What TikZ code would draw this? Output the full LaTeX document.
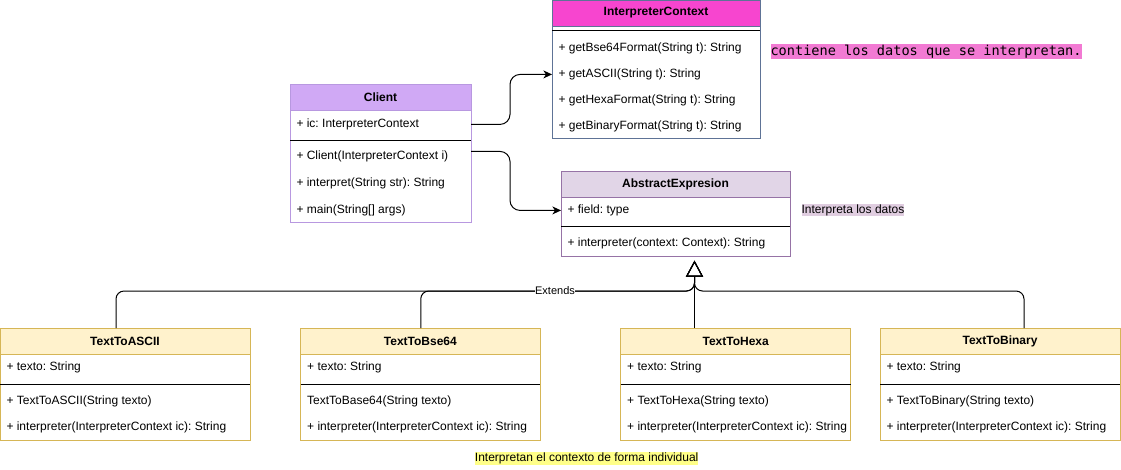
\documentclass[tikz,border=0pt]{standalone}
\usepackage{fontspec}
\setmainfont{Liberation Sans}
\newfontfamily\notemono{DejaVu Sans Mono}
\usetikzlibrary{arrows.meta,calc}
\frenchspacing

\definecolor{ctxhead}{HTML}{F745CF}
\definecolor{ctxborder}{HTML}{5E7396}
\definecolor{clienthead}{HTML}{D0A9F5}
\definecolor{clientborder}{HTML}{B898E0}
\definecolor{abshead}{HTML}{E1D5E7}
\definecolor{absborder}{HTML}{9673A6}
\definecolor{subhead}{HTML}{FFF2CC}
\definecolor{subborder}{HTML}{D6B656}
\definecolor{pinknote}{HTML}{F27AD3}
\definecolor{mauvenote}{HTML}{E0CDE0}
\definecolor{yellownote}{HTML}{FFFF88}

\begin{document}
\begin{tikzpicture}[x=0.75pt, y=-0.75pt, line width=0.75pt,
	font=\fontsize{9}{11}\selectfont,
	classbox/.style={draw, fill=white, anchor=north west, inner sep=0pt, outer sep=0pt},
	classhead/.style={draw, anchor=north, inner sep=0pt, outer sep=0pt, minimum height=26*0.75pt,
		font=\fontsize{9}{11}\selectfont\bfseries},
	member/.style={anchor=mid west, inner sep=0pt},
	assoc/.style={-{Stealth[length=6.5pt, width=6pt, inset=2pt]}, rounded corners=7.5pt},
	extends/.style={-{Triangle[open, length=12pt, width=12.75pt]}, rounded corners=6pt},
	note/.style={inner xsep=0pt, inner ysep=0.6pt}]
	\useasboundingbox (0,0) rectangle (1121,469);

	% InterpreterContext
	\node[classbox, draw=ctxborder, minimum width=208*0.75pt, minimum height=138*0.75pt] (ctx) at (552,0) {};
	\node[classhead, fill=ctxhead, draw=ctxborder, minimum width=208*0.75pt] (ctx-head) at (ctx.north) {InterpreterContext};
	\draw (552,30.7) -- (760,30.7);
	\foreach \y/\t [count=\i] in {48/+ getBse64Format(String t): String, 74/+ getASCII(String t): String,
		100/+ getHexaFormat(String t): String, 126/+ getBinaryFormat(String t): String}{
		\node[member] (ctx-r\i) at (558,\y) {\t};
	}

	% Client
	\node[classbox, draw=clientborder, minimum width=181*0.75pt, minimum height=138*0.75pt] (client) at (290,84) {};
	\node[classhead, fill=clienthead, draw=clientborder, minimum width=181*0.75pt] (client-head) at (client.north) {Client};
	\node[member] (client-ic) at (296,124) {+ ic: InterpreterContext};
	\draw (290,140) -- (471,140);
	\foreach \y/\t [count=\i] in {156/+ Client(InterpreterContext i), 183/+ interpret(String str): String,
		210/+ main(String[] args)}{
		\node[member] (client-m\i) at (296,\y) {\t};
	}

	% AbstractExpresion
	\node[classbox, draw=absborder, minimum width=229*0.75pt, minimum height=85*0.75pt] (abstract) at (561,171) {};
	\node[classhead, fill=abshead, draw=absborder, minimum width=229*0.75pt] (abstract-head) at (abstract.north) {AbstractExpresion};
	\node[member] (abs-field) at (567,210) {+ field: type};
	\draw (561,226.5) -- (790,226.5);
	\node[member] (abs-m1) at (567,243) {+ interpreter(context: Context): String};

	% subclasses
	\foreach \n/\x/\w/\t/\c in {ascii/0/250/TextToASCII/+ TextToASCII(String texto),
		bse64/300.7/239.3/TextToBse64/TextToBase64(String texto),
		hexa/620.7/230/TextToHexa/+ TextToHexa(String texto),
		binary/880/240/TextToBinary/+ TextToBinary(String texto)}{
		\node[classbox, draw=subborder, minimum width=\w*0.75pt, minimum height=112*0.75pt] (\n) at (\x,328) {};
		\node[classhead, fill=subhead, draw=subborder, minimum width=\w*0.75pt] (\n-head) at (\n.north) {\t};
		\node[member] (\n-texto) at (\x+6,367) {+ texto: String};
		\draw (\x,384) -- (\x+\w,384);
		\node[member] (\n-m1) at (\x+6,401) {\c};
		\node[member] (\n-m2) at (\x+6,427) {+ interpreter(InterpreterContext ic): String};
	}

	% connectors
	\coordinate (bend) at (510,0);
	\draw[assoc] (client.east |- client-ic) -| (bend |- ctx-r2) -- (ctx.west |- ctx-r2);
	\draw[assoc] ($(client.east |- client-m1)+(0,-5)$) -| (bend |- abs-field) -- (abstract.west |- abs-field);

	\coordinate (bar) at (0,291);
	\coordinate (tip) at ($(abstract.south)+(19,4.7)$);
	\foreach \n/\dx in {ascii/-9, bse64/0.4, binary/24}{
		\draw[extends] ($(\n.north)+(\dx,0)$) |- (bar -| tip) -- (tip);
	}
	\draw[extends] (hexa.north -| tip) -- (tip);
	\node[fill=white, inner sep=0.4pt, font=\fontsize{8.25}{10}\selectfont] (ext-label) at (555,291) {Extends};

	% notes
	\node[note, fill=pinknote, anchor=west, font=\notemono\fontsize{10.2}{12}\selectfont] (note-ctx) at (770,51.5) {contiene los datos que se interpretan.};
	\node[note, fill=mauvenote] (note-abs) at (853,210) {Interpreta los datos};
	\node[note, fill=yellownote] (note-sub) at (586.7,458.3) {Interpretan el contexto de forma individual};
\end{tikzpicture}
\end{document}
